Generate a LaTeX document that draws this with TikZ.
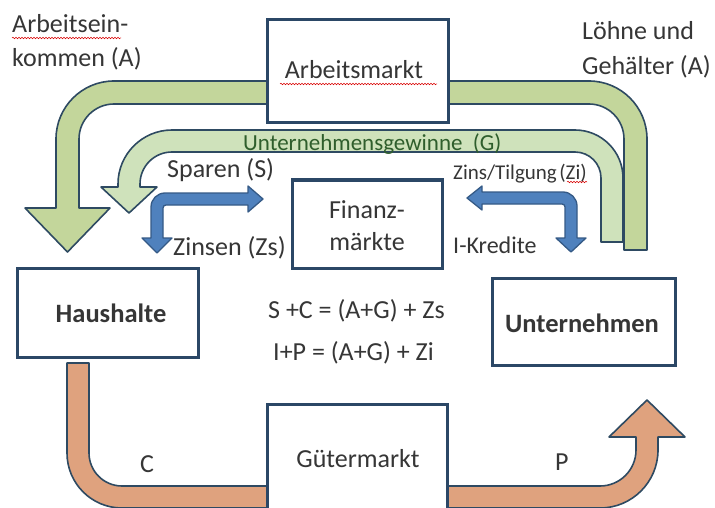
\documentclass[tikz,border=0pt]{standalone}
\usepackage{fontspec}
\setmainfont{Carlito}
\usetikzlibrary{decorations.pathmorphing}
\definecolor{boxline}{HTML}{2B4766}
\definecolor{bandline}{HTML}{2E4A62}
\definecolor{greenA}{HTML}{C3D69B}
\definecolor{greenG}{HTML}{CFE2BB}
\definecolor{blueF}{HTML}{4F81BD}
\definecolor{blueL}{HTML}{355A86}
\definecolor{brownF}{HTML}{DFA27E}
\definecolor{txt}{HTML}{363636}
\definecolor{dgreen}{HTML}{2F5E2C}
\tikzset{
  box/.style={draw=boxline, line width=3pt, fill=white, inner sep=0pt},
  lbl/.style={text=txt, inner sep=0pt, font=\fontsize{26}{31}\selectfont},
  lblb/.style={text=txt, inner sep=0pt, font=\fontsize{26.5}{31}\selectfont\bfseries},
  band/.style={draw=bandline, line width=1.6pt, line join=round},
  bluearrow/.style={draw=blueL, fill=blueF, line width=1.3pt, line join=round},
  squig/.style={red!85!black, line width=0.5pt, decorate, decoration={snake, amplitude=0.8pt, segment length=3pt}}
}
\begin{document}
\begin{tikzpicture}[x=1pt,y=-1pt]
\useasboundingbox (0,0) rectangle (715,508);
\fill[white] (0,0) rectangle (715,508);

% Arbeitseinkommen / Loehne (A)
\draw[band, fill=greenA] (647,250) -- (647,139)
  .. controls (647,107) and (621,81) .. (589,81) -- (114,81)
  .. controls (82,81) and (56,107) .. (56,139) -- (56,208)
  -- (25,208) -- (67.5,252) -- (110,208) -- (79,208) -- (79,139)
  .. controls (79,119.7) and (94.7,104) .. (114,104) -- (589,104)
  .. controls (608.3,104) and (624,119.7) .. (624,139) -- (624,250) -- cycle;

% Unternehmensgewinne (G)
\draw[band, fill=greenG] (623,242) -- (623,178)
  .. controls (623,151.5) and (601.5,130) .. (575,130) -- (172,130)
  .. controls (142.2,130) and (118,154.2) .. (118,184) -- (118,187)
  -- (101,187) -- (129,213) -- (157,187) -- (140,187) -- (140,184)
  .. controls (140,166.3) and (154.3,152) .. (172,152) -- (575,152)
  .. controls (589.4,152) and (601,163.6) .. (601,178) -- (601,242) -- cycle;

% C / P
\draw[band, fill=brownF] (67,363) -- (67,453)
  .. controls (67,483.4) and (91.6,508) .. (122,508) -- (600,508)
  .. controls (632,508) and (658,482) .. (658,450) -- (658,437)
  -- (685,437) -- (647,400) -- (609,437) -- (636,437) -- (636,450)
  .. controls (636,469.9) and (619.9,486) .. (600,486) -- (122,486)
  .. controls (103.8,486) and (89,471.2) .. (89,453) -- (89,363) -- cycle;

% Sparen / Zinsen
\draw[bluearrow] (248,193) -- (165,193)
  .. controls (157.3,193) and (151,199.3) .. (151,207) -- (151,238)
  -- (142,238) -- (157,253) -- (172,238) -- (163,238) -- (163,208)
  .. controls (163,206.3) and (164.3,205) .. (166,205) -- (248,205)
  -- (248,212) -- (263,199) -- (248,186) -- cycle;

% Zins/Tilgung / I-Kredite
\draw[bluearrow] (482,192) -- (563,192)
  .. controls (570.7,192) and (577,198.3) .. (577,206) -- (577,238)
  -- (586,238) -- (571,252) -- (556,238) -- (565,238) -- (565,207)
  .. controls (565,205.3) and (563.7,204) .. (562,204) -- (482,204)
  -- (482,210) -- (467,198) -- (482,186) -- cycle;

% boxes
\node[box, minimum width=181pt, minimum height=103pt] (arbeitsmarkt) at (357.5,71.5) {};
\node[box, minimum width=150pt, minimum height=88pt] (finanz) at (367,224) {};
\node[box, minimum width=181pt, minimum height=89pt] (haushalte) at (107.5,312.5) {};
\node[box, minimum width=183pt, minimum height=87pt] (unternehmen) at (583.5,321.5) {};
\node[box, minimum width=180pt, minimum height=116pt] (gueter) at (357,462) {};

% texts
\node[lbl, anchor=base west] (tA1) at (12,33) {Arbeitsein-};
\node[lbl, anchor=base west] (tA2) at (12,67) {kommen (A)};
\node[lbl, anchor=base west] (tL1) at (582,40) {Löhne und};
\node[lbl, anchor=base west] (tL2) at (582,75) {Gehälter (A)};
\node[lbl, anchor=base] (tAM) at (354,79) {Arbeitsmarkt};
\node[lbl, anchor=base west, text=dgreen, font=\fontsize{23}{27}\selectfont] (tG) at (243,150) {Unternehmensgewinne\hspace{0.45em}(G)};
\node[lbl, anchor=base west] (tS) at (167,178) {Sparen (S)};
\node[lbl, anchor=base west] (tZs) at (173,255) {Zinsen (Zs)};
\node[lbl, anchor=base west, font=\fontsize{21}{25}\selectfont] (tZi) at (453,179) {Zins/Tilgung\hspace{0.12em}(Zi)};
\node[lbl, anchor=base west, font=\fontsize{24}{28}\selectfont] (tIK) at (453,253) {I-Kredite};
\node[lbl, anchor=base] (tF1) at (367,218) {Finanz-};
\node[lbl, anchor=base] (tF2) at (367,250) {märkte};
\node[lblb, anchor=base] (tH) at (111,322) {Haushalte};
\node[lblb, anchor=base] (tU) at (582,332) {Unternehmen};
\node[lbl, anchor=base west] (tE1) at (268,318) {S +C = (A+G) + Zs};
\node[lbl, anchor=base west] (tE2) at (273,360) {I+P = (A+G) + Zi};
\node[lbl, anchor=base west] (tC) at (140,472) {C};
\node[lbl, anchor=base west] (tP) at (555,470) {P};
\node[lbl, anchor=base] (tGM) at (358,467) {Gütermarkt};

% spell-check underlines
\draw[squig] (12,38) -- (121,38);
\draw[squig] (280,84) -- (437,84);
\draw[squig] (567,182) -- (587,182);
\end{tikzpicture}
\end{document}
